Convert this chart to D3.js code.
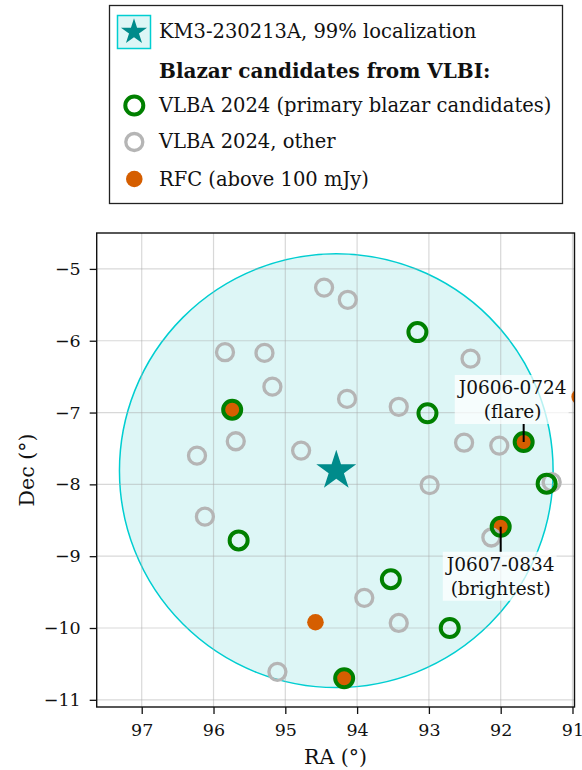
<!DOCTYPE html>
<html>
<head>
<meta charset="utf-8">
<script src="https://cdn.jsdelivr.net/npm/d3@7"></script>
<style>
body { margin: 0; background: #fff; }
text { font-family: "DejaVu Serif", serif; fill: #111; }
</style>
</head>
<body>
<script>
// KM3-230213A 99% localization region
const eventRA = 94.29;
const eventDec = -7.81;
const eventRadius = 3.02;

// VLBA 2024, primary blazar candidates
const primaryRA  = [93.16, 93.02, 95.74, 91.68, 91.36, 95.65, 92.00, 93.53, 92.71, 94.18];
const primaryDec = [-5.88, -7.01, -6.96, -7.41, -7.99, -8.78, -8.59, -9.32, -10.00, -10.70];

// VLBA 2024, other
const otherRA  = [94.46, 94.13, 95.84, 95.29, 95.18, 94.14, 92.42, 93.42, 92.51, 92.02,
                  95.69, 96.23, 94.78, 92.99, 91.29, 96.12, 92.13, 93.90, 93.42, 95.11];
const otherDec = [-5.26, -5.43, -6.16, -6.17, -6.64, -6.81, -6.25, -6.92, -7.42, -7.46,
                  -7.40, -7.60, -7.53, -8.01, -7.97, -8.45, -8.74, -9.58, -9.93, -10.61];

// RFC sources above 100 mJy
const rfcRA  = [95.74, 91.68, 92.00, 94.18, 94.58, 90.90];
const rfcDec = [-6.96, -7.41, -8.59, -10.70, -9.92, -6.78];

// labelled sources
const labelNames = ['J0606-0724', 'J0607-0834'];
const labelNotes = ['(flare)', '(brightest)'];
const labelRA  = [91.68, 92.00];
const labelDec = [-7.41, -8.59];

const xTicks = [97, 96, 95, 94, 93, 92, 91];
const yTicks = [-5, -6, -7, -8, -9, -10, -11];

const legendLabels = [
  'KM3-230213A, 99% localization',
  'Blazar candidates from VLBI:',
  'VLBA 2024 (primary blazar candidates)',
  'VLBA 2024, other',
  'RFC (above 100 mJy)'
];

const w = 582, h = 770;
const pL = 96.7, pR = 574.5, pT = 233, pB = 707;
const tickFs = 17.5, labelFs = 20.5, legendFs = 19.5, noteFs = 18.5;

const teal = '#008b8b', cyanEdge = '#00ced1', cyanFill = '#ddf6f6';
const green = '#008000', grey = '#b5b5b5', orange = '#d55e00';

const svg = d3.select('body').append('svg').attr('width', w).attr('height', h);

const x = d3.scaleLinear().domain([97.627, 90.972]).range([pL, pR]);
const y = d3.scaleLinear().domain([-4.5, -11.1]).range([pT, pB]);

svg.append('clipPath').attr('id', 'plotclip')
  .append('rect').attr('x', pL).attr('y', pT).attr('width', pR - pL).attr('height', pB - pT);

const plot = svg.append('g').attr('clip-path', 'url(#plotclip)');

// localization circle
plot.append('ellipse')
  .attr('cx', x(eventRA)).attr('cy', y(eventDec))
  .attr('rx', Math.abs(x(eventRA + eventRadius) - x(eventRA)))
  .attr('ry', Math.abs(y(eventDec + eventRadius) - y(eventDec)))
  .attr('fill', cyanFill).attr('stroke', cyanEdge).attr('stroke-width', 1.5);

// grid
plot.append('g').selectAll('line').data(xTicks).enter().append('line')
  .attr('x1', d => x(d)).attr('x2', d => x(d)).attr('y1', pT).attr('y2', pB)
  .attr('stroke', '#a8a8a8').attr('stroke-opacity', 0.45).attr('stroke-width', 1.2);
plot.append('g').selectAll('line').data(yTicks).enter().append('line')
  .attr('y1', d => y(d)).attr('y2', d => y(d)).attr('x1', pL).attr('x2', pR)
  .attr('stroke', '#a8a8a8').attr('stroke-opacity', 0.45).attr('stroke-width', 1.2);

// RFC
plot.append('g').selectAll('circle').data(rfcRA).enter().append('circle')
  .attr('cx', d => x(d)).attr('cy', (d, i) => y(rfcDec[i])).attr('r', 8.3)
  .attr('fill', orange);

// VLBA other
plot.append('g').selectAll('circle').data(otherRA).enter().append('circle')
  .attr('cx', d => x(d)).attr('cy', (d, i) => y(otherDec[i])).attr('r', 8.5)
  .attr('fill', 'none').attr('stroke', grey).attr('stroke-width', 3.3);

// VLBA primary
plot.append('g').selectAll('circle').data(primaryRA).enter().append('circle')
  .attr('cx', d => x(d)).attr('cy', (d, i) => y(primaryDec[i])).attr('r', 9)
  .attr('fill', 'none').attr('stroke', green).attr('stroke-width', 4);

// event position
plot.append('path')
  .attr('d', d3.symbol(d3.symbolStar, 495)())
  .attr('transform', `translate(${x(eventRA)},${y(eventDec)})`)
  .attr('fill', teal);

// annotations: text offset relative to the source, box above or below
const labelDx = [-11, 0];
const labelGap = [-18, 25];
labelNames.forEach((name, i) => {
  const px = x(labelRA[i]), py = y(labelDec[i]);
  const g = svg.append('g');
  const bg = g.append('rect').attr('fill', '#fff').attr('fill-opacity', 0.72);
  const t = g.append('text').attr('text-anchor', 'middle').style('font-size', noteFs + 'px');
  t.append('tspan').attr('x', px + labelDx[i]).attr('dy', 0).text(name);
  t.append('tspan').attr('x', px + labelDx[i]).attr('dy', 24).text(labelNotes[i]);
  const bb = t.node().getBBox();
  const pad = 2;
  const boxH = bb.height + 2 * pad;
  const boxTop = labelGap[i] < 0 ? py + labelGap[i] - boxH : py + labelGap[i];
  t.attr('transform', `translate(0,${boxTop + pad - bb.y})`);
  bg.attr('x', bb.x - 2).attr('width', bb.width + 4)
    .attr('y', boxTop).attr('height', boxH);
  g.append('line')
    .attr('x1', px).attr('x2', px).attr('y1', py)
    .attr('y2', labelGap[i] < 0 ? boxTop + boxH : boxTop)
    .attr('stroke', '#000').attr('stroke-width', 2);
});

// frame
svg.append('rect').attr('x', pL).attr('y', pT).attr('width', pR - pL).attr('height', pB - pT)
  .attr('fill', 'none').attr('stroke', '#111').attr('stroke-width', 1.4);

// axes
const xAxis = svg.append('g').attr('transform', `translate(0,${pB})`)
  .call(d3.axisBottom(x).tickValues(xTicks).tickSize(7).tickPadding(10).tickFormat(d3.format('d')));
const yAxis = svg.append('g').attr('transform', `translate(${pL},0)`)
  .call(d3.axisLeft(y).tickValues(yTicks).tickSize(7).tickPadding(9).tickFormat(d3.format('d')));
[xAxis, yAxis].forEach(a => {
  a.select('.domain').remove();
  a.selectAll('line').attr('stroke', '#111').attr('stroke-width', 1.3);
  a.selectAll('text').style('font-size', tickFs + 'px').style('font-family', '"DejaVu Serif", serif').attr('fill', '#111');
});

svg.append('text').attr('x', (pL + pR) / 2).attr('y', 764).attr('text-anchor', 'middle')
  .style('font-size', labelFs + 'px').text('RA (°)');
svg.append('text').attr('transform', `translate(34,${(pT + pB) / 2}) rotate(-90)`)
  .attr('text-anchor', 'middle').style('font-size', labelFs + 'px').text('Dec (°)');

// legend
const lg = svg.append('g');
lg.append('rect').attr('x', 109.5).attr('y', 5.5).attr('width', 453).attr('height', 198)
  .attr('fill', '#fff').attr('stroke', '#222').attr('stroke-width', 1.3);
lg.append('rect').attr('x', 117.5).attr('y', 15.5).attr('width', 33).attr('height', 33)
  .attr('fill', cyanFill).attr('stroke', cyanEdge).attr('stroke-width', 1.5);
lg.append('path').attr('d', d3.symbol(d3.symbolStar, 211)())
  .attr('transform', 'translate(134,32)').attr('fill', teal);
lg.append('circle').attr('cx', 134.3).attr('cy', 105.5).attr('r', 9)
  .attr('fill', 'none').attr('stroke', green).attr('stroke-width', 4);
lg.append('circle').attr('cx', 134.3).attr('cy', 142).attr('r', 8.5)
  .attr('fill', 'none').attr('stroke', grey).attr('stroke-width', 3.3);
lg.append('circle').attr('cx', 134.3).attr('cy', 179).attr('r', 8.3).attr('fill', orange);

const legendY = [38, 77.5, 111.5, 148, 185.5];
legendLabels.forEach((s, i) => {
  lg.append('text').attr('x', 159).attr('y', legendY[i])
    .style('font-size', (i === 1 ? 20 : legendFs) + 'px')
    .style('font-weight', i === 1 ? 'bold' : 'normal').text(s);
});
</script>
</body>
</html>
